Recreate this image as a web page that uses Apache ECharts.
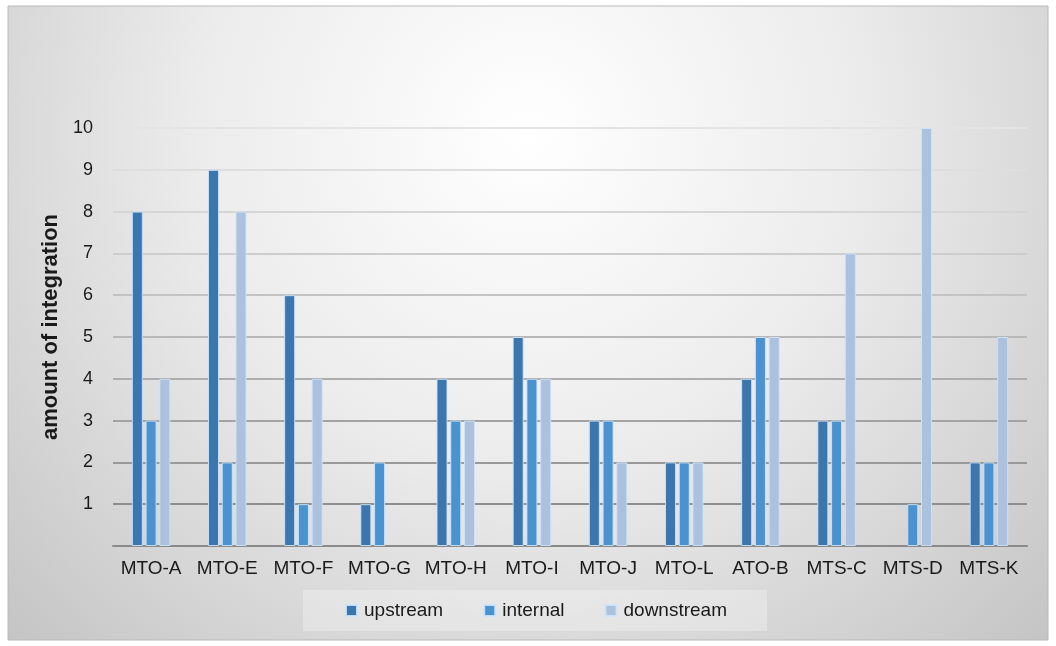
<!DOCTYPE html>
<html>
<head>
<meta charset="utf-8">
<script src="https://cdn.jsdelivr.net/npm/echarts@6/dist/echarts.min.js"></script>
<style>
  html, body { margin: 0; padding: 0; background: #ffffff; }
  #chart { width: 1056px; height: 646px; }
</style>
</head>
<body>
<div id="chart"></div>
<script>
// Company cases along the x axis
const categories = ['MTO-A', 'MTO-E', 'MTO-F', 'MTO-G', 'MTO-H', 'MTO-I', 'MTO-J', 'MTO-L', 'ATO-B', 'MTS-C', 'MTS-D', 'MTS-K'];
// Amount of integration per direction
const upstream   = [8, 9, 6, 1, 4, 5, 3, 2, 4, 3, 0, 2];
const internal   = [3, 2, 1, 2, 3, 4, 3, 2, 5, 3, 1, 2];
const downstream = [4, 8, 4, 0, 3, 4, 2, 2, 5, 7, 10, 5];
const yTicks = [0, 1, 2, 3, 4, 5, 6, 7, 8, 9, 10];

const FONT = '"Liberation Sans", Arial, sans-serif';
const chart = echarts.init(document.getElementById('chart'), null, { renderer: 'canvas' });

function barSeries(name, data, color) {
  return {
    name: name,
    type: 'bar',
    data: data.map(v => (v === 0 ? null : v)),
    barWidth: 11,
    barGap: '25%',
    itemStyle: { color: color, borderColor: 'rgba(205,228,250,0.9)', borderWidth: 1 }
  };
}

chart.setOption({
  animation: false,
  textStyle: { fontFamily: FONT },
  graphic: [{
    type: 'rect',
    z: -10,
    shape: { x: 8, y: 6, width: 1040, height: 634 },
    style: {
      fill: {
        type: 'radial', x: 0.5, y: 0.2, r: 1.15,
        colorStops: [
          { offset: 0, color: '#ffffff' },
          { offset: 0.45, color: '#ececec' },
          { offset: 1, color: '#c4c4c4' }
        ]
      },
      stroke: '#b8b8b8',
      lineWidth: 1
    }
  }],
  grid: { left: 113, right: 29, top: 128, bottom: 100 },
  legend: {
    left: 303,
    top: 590,
    padding: [11, 40, 11, 42],
    backgroundColor: 'rgba(255,255,255,0.28)',
    itemWidth: 11,
    itemHeight: 11,
    itemGap: 40,
    icon: 'rect',
    textStyle: { fontSize: 19, color: '#1a1a1a', fontFamily: FONT, padding: [0, 0, 0, 2] }
  },
  xAxis: {
    type: 'category',
    data: categories,
    axisTick: { show: false },
    axisLine: { lineStyle: { color: '#8a8a8a', width: 2 } },
    axisLabel: { interval: 0, hideOverlap: false, fontSize: 19, color: '#1a1a1a', margin: 13, fontFamily: FONT }
  },
  yAxis: {
    type: 'value',
    min: yTicks[0],
    max: yTicks[yTicks.length - 1],
    interval: 1,
    name: 'amount of integration',
    nameLocation: 'middle',
    nameGap: 48,
    nameRotate: 90,
    nameTextStyle: { fontSize: 22, fontWeight: 'bold', color: '#1a1a1a', fontFamily: FONT, padding: [0, 0, 0, 20] },
    axisLine: { show: false },
    axisTick: { show: false },
    axisLabel: {
      fontSize: 18, color: '#1a1a1a', margin: 20, fontFamily: FONT,
      formatter: v => (v === 0 ? '' : String(v))
    },
    splitLine: {
      lineStyle: {
        width: 2,
        color: ['#8a8a8a', '#8e8e8e', '#999999', '#a3a3a3', '#adadad', '#b8b8b8', '#c3c3c3', '#cdcdcd', '#d6d6d6', '#dedede', '#e4e4e4']
      }
    }
  },
  series: [
    barSeries('upstream', upstream, '#3b76ae'),
    barSeries('internal', internal, '#4b92d0'),
    barSeries('downstream', downstream, '#abc1de')
  ]
});
</script>
</body>
</html>
